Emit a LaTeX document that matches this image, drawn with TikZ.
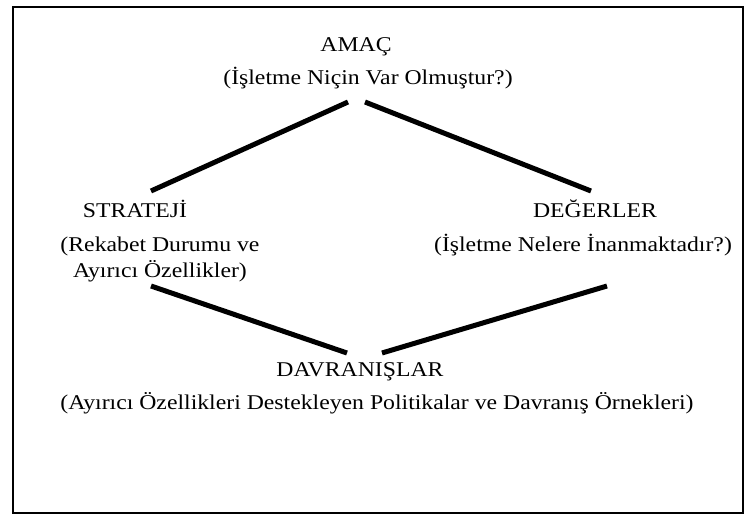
\documentclass[tikz,border=0pt]{standalone}
\usepackage{fontspec}
\setmainfont{Liberation Serif}[FakeStretch=1.13]
\usetikzlibrary{positioning}

\begin{document}
\begin{tikzpicture}[x=1pt,y=-1pt]
    \useasboundingbox (0,0) rectangle (750,518);
    %%%%% THE FRAME
    \draw[line width=2.5pt] (13,7) rectangle (743,513);
    %%%%% THE FOUR CORNERS
    \begin{scope}[every node/.style={font=\fontsize{21}{26}\selectfont,inner sep=0pt,anchor=base,align=center},
        link/.style={black,line width=5pt}]
      \node (AMAC) at (356,52) {AMAÇ};
      \node (AMACSUB) at (368,85) {(İşletme Niçin Var Olmuştur?)};
      \node (STRATEJI) at (135,218) {STRATEJİ};
      \node (STRATEJISUB) at (160,278) {(Rekabet Durumu ve\\Ayırıcı Özellikler)};
      \node (DEGERLER) at (595,218) {DEĞERLER};
      \node (DEGERLERSUB) at (583,252) {(İşletme Nelere İnanmaktadır?)};
      \node (DAVRANIS) at (360,377) {DAVRANIŞLAR};
      \node (DAVRANISSUB) at (377,410) {(Ayırıcı Özellikleri Destekleyen Politikalar ve Davranış Örnekleri)};
      %%%% LINKS BETWEEN THE CORNERS
      \draw[link] ([xshift=-20pt,yshift=-17pt]AMACSUB.base) -- ([xshift=16pt,yshift=27pt]STRATEJI.base);
      \draw[link] ([xshift=-3pt,yshift=-17pt]AMACSUB.base) -- ([xshift=-4pt,yshift=27pt]DEGERLER.base);
      \draw[link] ([xshift=-9pt,yshift=-8pt]STRATEJISUB.base) -- ([xshift=-13pt,yshift=24pt]DAVRANIS.base);
      \draw[link] ([xshift=22pt,yshift=24pt]DAVRANIS.base) -- ([xshift=24pt,yshift=-34pt]DEGERLERSUB.base);
    \end{scope}
\end{tikzpicture}
\end{document}
